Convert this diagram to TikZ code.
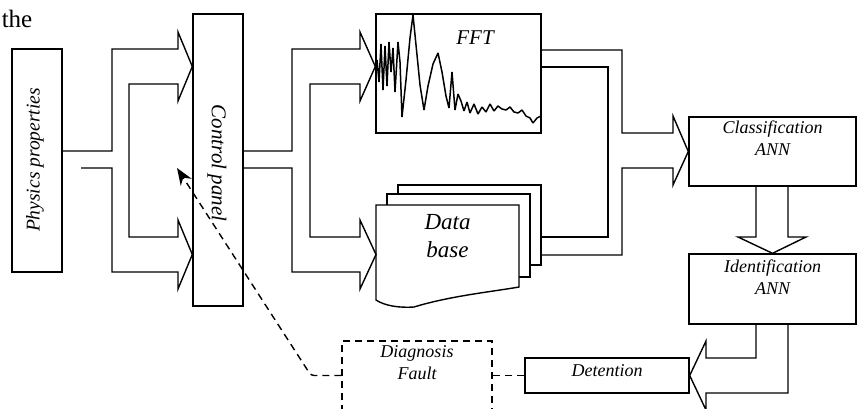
\documentclass[tikz,border=0pt]{standalone}
\usepackage{fontspec}
\newfontfamily\labelfont{Liberation Serif}
\usetikzlibrary{arrows.meta,positioning,calc}

\begin{document}
\begin{tikzpicture}[x=1pt,y=-1pt,line width=1.4pt,
    every node/.style={inner sep=0pt},
    box/.style={draw,rectangle,fill=white},
    lbl/.style={font=\labelfont\itshape\fontsize{18}{22}\selectfont,align=center},
    dashline/.style={dash pattern=on 7pt off 5pt},
    fatarrow/.style={line join=miter}
    ]
    \clip (0,0) rectangle (862,408);

    \node (cap) [anchor=east,font=\labelfont\fontsize{25}{28}\selectfont] at (33,19) {the};

    % the blocks
    \node (phys) [box,minimum width=50,minimum height=223] at (37,160.5) {};
    \node (physt) [lbl,rotate=90,font=\labelfont\itshape\fontsize{19.5}{22}\selectfont] at (35,160) {Physics properties};
    \node (ctrl) [box,minimum width=50,minimum height=292] at (218,160) {};
    \node (ctrlt) [lbl,rotate=-90,font=\labelfont\itshape\fontsize{21}{24}\selectfont] at (217,163) {Control panel};
    \node (fft) [box,minimum width=165,minimum height=119] at (458.5,73.5) {};
    \node (fftt) [lbl,font=\labelfont\itshape\fontsize{21}{24}\selectfont] at (475,38) {FFT};
    \node (db3) [box,minimum width=143,minimum height=80] at (469.5,225) {};
    \node (db2) [box,minimum width=143,minimum height=83] at (458.5,235.5) {};
    \draw[fill=white] (376,205) -- (519,205) -- (519,287)
        .. controls (490,292) and (450,296) .. (414,307)
        .. controls (400,308) and (385,306) .. (376,300) -- cycle;
    \node (db) [lbl,font=\labelfont\itshape\fontsize{23}{28}\selectfont] at (447.5,236) {Data\\base};
    \node (class) [box,minimum width=167,minimum height=69] at (772.5,151.5) {};
    \node (classt) [lbl,anchor=north,below=4pt of class.north] {Classification\\ANN};
    \node (ident) [box,minimum width=167,minimum height=70] at (772.5,289) {};
    \node (identt) [lbl,anchor=north,below=6pt of ident.north] {Identification\\ANN};
    \node (deten) [box,minimum width=164,minimum height=35] at (607,375.5) {};
    \node (detent) [lbl] at (607,371) {Detention};
    \node (diag) [box,dashline,minimum width=150,minimum height=80] at (417,381) {};
    \node (diagt) [lbl,anchor=north,below=5pt of diag.north] {Diagnosis\\Fault};

    % the spectrum
    \draw[line width=1.5pt,line join=bevel] (377,60) -- (379,82) -- (381,44) -- (383,90) -- (385,46)
        -- (387,86) -- (389,42) -- (391,72) -- (393,48) -- (395,92) -- (398,42) -- (400,62)
        -- (402,117) -- (406,80) -- (410,38) -- (413,15) -- (416,45) -- (420,85) -- (424,110)
        -- (428,86) -- (433,64) -- (438,53) -- (442,72) -- (446,96) -- (449,108) -- (452,72)
        -- (455,110) -- (458,94) -- (461,101) -- (464,111) -- (467,102) -- (470,113)
        -- (474,104) -- (478,114) -- (482,107) -- (486,112) -- (490,104) -- (494,111)
        -- (498,106) -- (502,109) -- (506,110) -- (510,107) -- (514,112) -- (518,113)
        -- (522,110) -- (526,116) -- (530,118) -- (533,123) -- (537,118) -- (541,116);

    % the hollow arrows
    \draw[fatarrow] (62,151) -- (112,151) -- (112,49) -- (178,49) -- (178,32)
        -- (ctrl.west |- 0,66.5) -- (178,101) -- (178,84) -- (129,84) -- (129,237)
        -- (178,237) -- (178,220) -- (ctrl.west |- 0,254.5) -- (178,289) -- (178,272)
        -- (112,272) -- (112,168) -- (81,168);
    \draw[fatarrow] (ctrl.east |- 0,151) -- (292,151) -- (292,49) -- (360,49) -- (360,32)
        -- (fft.west |- 0,66.5) -- (360,101) -- (360,84) -- (310,84) -- (310,237)
        -- (360,237) -- (360,220) -- (376,254.5) -- (360,289) -- (360,272)
        -- (292,272) -- (292,168) -- (ctrl.east |- 0,168);
    \draw[fatarrow] (fft.east |- 0,50) -- (622,50) -- (622,133) -- (673,133) -- (673,116)
        -- (class.west) -- (673,185) -- (673,168) -- (622,168) -- (622,255)
        -- (db3.east |- 0,255);
    \draw (fft.east |- 0,67) -- (608,67) -- (608,237) -- (db3.east |- 0,237);
    \draw[fatarrow] (class.south -| 756,0) -- (756,237) -- (738,237) -- (ident.north)
        -- (806,237) -- (788,237) -- (class.south -| 788,0);
    \draw[fatarrow] (ident.south -| 756,0) -- (756,358) -- (706,358) -- (706,341)
        -- (deten.east) -- (706,410) -- (706,393) -- (788,393) -- (ident.south -| 788,0);

    % the dashed links
    \coordinate (ptr) at (177,168);
    \draw[dashline] (deten.west) -- (deten.west -| diag.east);
    \draw[dashline,rounded corners=3pt,-{Stealth[length=17pt,width=13pt]}]
        (diag.west |- deten.west) -- (311,375.5) -- (ptr);
\end{tikzpicture}
\end{document}
